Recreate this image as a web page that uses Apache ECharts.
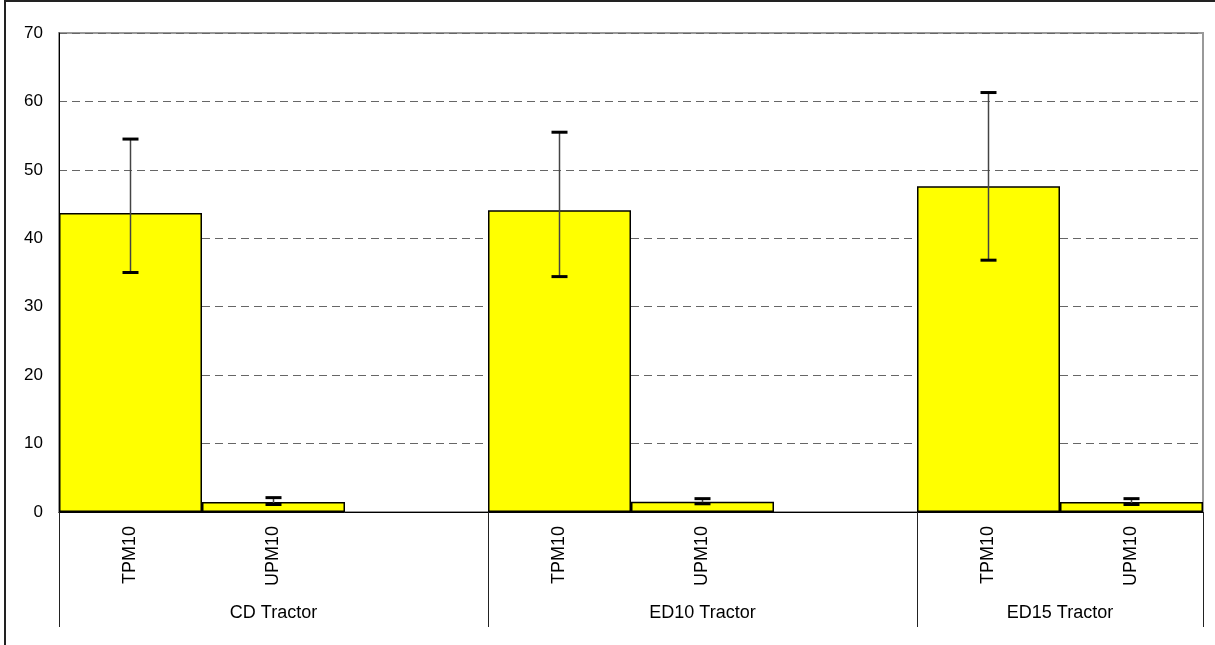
<!DOCTYPE html>
<html>
<head>
<meta charset="utf-8">
<script src="https://cdn.jsdelivr.net/npm/echarts@6/dist/echarts.min.js"></script>
<style>
  html, body { margin: 0; padding: 0; background: #fff; }
  #chart { width: 1215px; height: 645px; }
</style>
</head>
<body>
<div id="chart"></div>
<script>
// slots on the x axis: empty strings are the gaps between tractor groups
var categories = ['TPM10', 'UPM10', '', 'TPM10', 'UPM10', '', 'TPM10', 'UPM10'];
var values = [43.7, 1.45, null, 44.1, 1.5, null, 47.6, 1.45];
// error bars: [slot, low, high]
var errors = [
  [0, 35.0, 54.5],
  [1, 1.1, 2.1],
  [3, 34.4, 55.5],
  [4, 1.2, 1.95],
  [6, 36.8, 61.3],
  [7, 1.1, 1.95]
];
var groupNames = ['CD Tractor', 'ED10 Tractor', 'ED15 Tractor'];
var groupCenters = [1.5, 4.5, 7];
var groupEdges = [0, 3, 6, 8];
var yTicks = [0, 10, 20, 30, 40, 50, 60, 70];

var font = '"Liberation Sans", Arial, sans-serif';
var myChart = echarts.init(document.getElementById('chart'));

var option = {
  animation: false,
  backgroundColor: '#fff',
  textStyle: { fontFamily: font },
  graphic: [{
    type: 'rect',
    shape: { x: 5, y: 1, width: 1400, height: 800 },
    style: { fill: 'none', stroke: '#222', lineWidth: 2 },
    z: 100
  }],
  grid: {
    left: 59, right: 12, top: 33, bottom: 133,
    show: true, borderColor: '#999', borderWidth: 2
  },
  xAxis: [{
    type: 'category',
    data: categories,
    axisLine: { lineStyle: { color: '#000', width: 1 } },
    axisTick: { show: false },
    axisLabel: {
      rotate: 90, margin: 14, fontSize: 18, color: '#000', interval: 0, fontFamily: font
    },
    splitLine: { show: false }
  }, {
    type: 'value',
    position: 'bottom',
    min: 0, max: 8,
    axisLine: { show: false },
    axisTick: {
      show: true, customValues: groupEdges, length: 115,
      lineStyle: { color: '#222', width: 1 }
    },
    axisLabel: {
      customValues: groupCenters, margin: 92, fontSize: 18, color: '#000', fontFamily: font,
      formatter: function (v) {
        var i = groupCenters.indexOf(v);
        return i >= 0 ? groupNames[i] : '';
      }
    },
    splitLine: { show: false }
  }],
  yAxis: {
    type: 'value',
    min: 0, max: 70, interval: 10,
    axisLine: { show: true, lineStyle: { color: '#000', width: 1 } },
    axisTick: { show: false },
    axisLabel: {
      margin: 16, fontSize: 17, color: '#000', fontFamily: font,
      customValues: yTicks
    },
    splitLine: { lineStyle: { color: '#666', type: [8, 5], width: 1 } }
  },
  series: [{
    type: 'bar',
    xAxisIndex: 0,
    data: values,
    barWidth: '100%',
    itemStyle: { color: '#ffff00', borderColor: '#000', borderWidth: 1.5 }
  }, {
    type: 'custom',
    xAxisIndex: 0,
    data: errors,
    z: 10,
    renderItem: function (params, api) {
      var lo = api.coord([api.value(0), api.value(1)]);
      var hi = api.coord([api.value(0), api.value(2)]);
      var hw = 8;
      return {
        type: 'group',
        children: [
          { type: 'line', shape: { x1: hi[0], y1: hi[1], x2: lo[0], y2: lo[1] },
            style: { stroke: '#444', lineWidth: 1.5 } },
          { type: 'line', shape: { x1: hi[0] - hw, y1: hi[1], x2: hi[0] + hw, y2: hi[1] },
            style: { stroke: '#000', lineWidth: 3 } },
          { type: 'line', shape: { x1: lo[0] - hw, y1: lo[1], x2: lo[0] + hw, y2: lo[1] },
            style: { stroke: '#000', lineWidth: 3 } }
        ]
      };
    }
  }]
};

myChart.setOption(option);
</script>
</body>
</html>
